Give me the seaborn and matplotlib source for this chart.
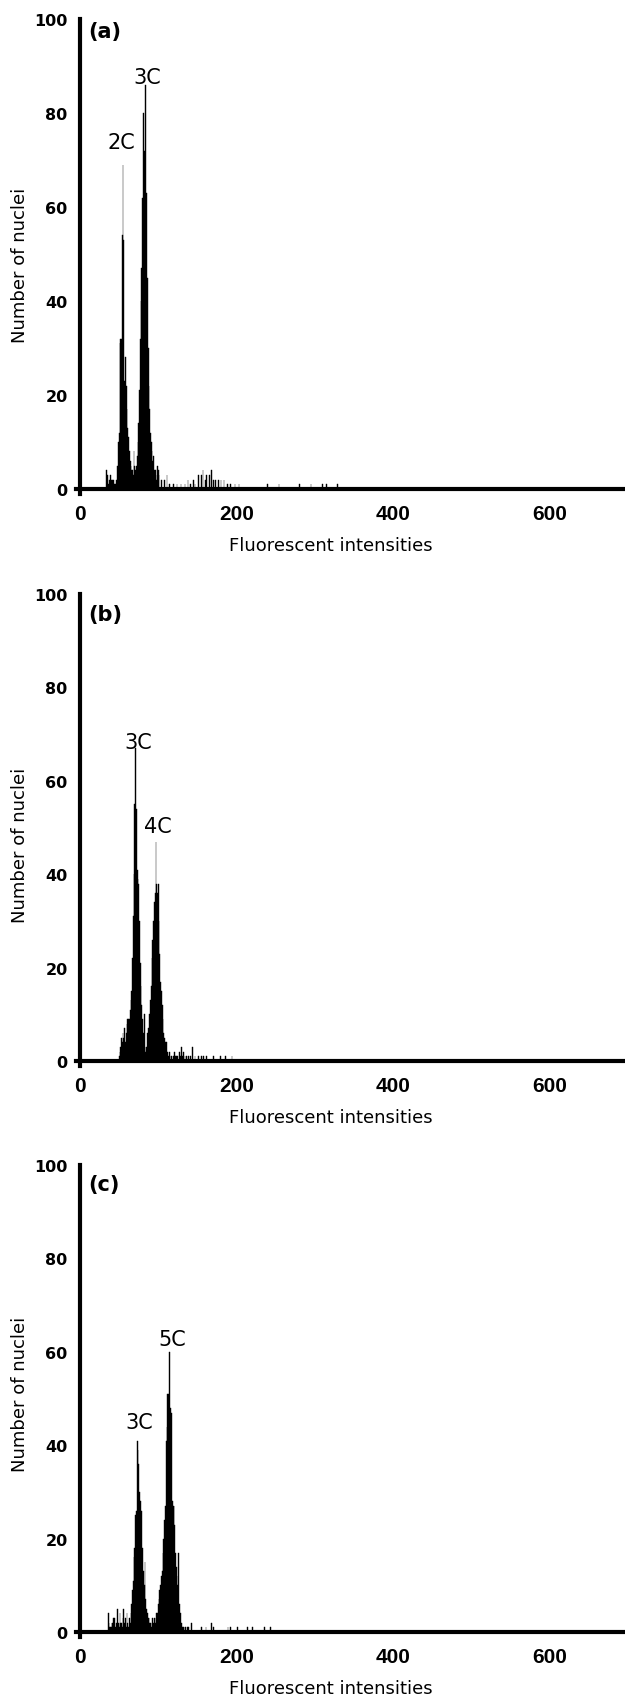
import matplotlib
matplotlib.use("Agg")
import matplotlib.pyplot as plt
import seaborn as sns

# ---- data (intensity bin -> number of nuclei) ----
a_intensity = [34, 35, 36, 37, 38, 39, 40, 41, 42, 43, 44, 45, 46,
               47, 48, 49, 50, 51, 52, 53, 54, 55, 56, 57, 58, 59, 60, 61, 62, 63, 64, 65, 66, 67, 68, 69, 70, 71,
               72, 73, 74, 75, 76, 77, 78, 79, 80, 81, 82, 83, 84, 85, 86, 87, 88, 89, 90, 91, 92, 93, 94, 95,
               96, 97, 98, 99, 100, 101, 104, 108, 111, 114, 119, 124, 129, 134, 138, 141, 145, 147, 151, 155,
               157, 160, 162, 165, 168, 170, 173, 177, 180, 184, 188, 192, 198, 203, 239, 254, 280, 295, 310,
               315, 329]
a_nuclei = [4, 3, 1, 1, 2, 3, 2, 1, 2, 2, 1, 1, 1,
            2, 5, 10, 12, 31, 32, 32, 54, 69, 53, 23, 28, 22, 17, 13, 11, 8, 6, 5, 4, 4, 3, 8, 5, 4,
            5, 7, 10, 14, 21, 32, 40, 47, 62, 80, 72, 71, 86, 63, 45, 30, 22, 17, 12, 10, 8, 6, 7, 4,
            4, 3, 2, 5, 4, 3, 2, 2, 3, 1, 1, 1, 1, 1, 2, 1, 2, 1, 3, 3,
            4, 2, 3, 3, 4, 2, 2, 2, 2, 2, 1, 1, 1, 1, 1, 1, 1, 1, 1,
            1, 1]

b_intensity = [50, 51, 52, 53, 54, 55, 56, 57, 58, 59, 60, 61, 62, 63, 64, 65, 66, 67, 68, 69, 70, 71,
               72, 73, 74, 75, 76, 77, 78, 79, 80, 81, 82, 83, 84, 85, 86, 87, 88, 89, 90, 91, 92, 93, 94,
               95, 96, 97, 98, 99, 100, 101, 102, 103, 104, 105, 106, 107, 108, 109, 110, 111, 112, 113,
               114, 115, 117, 119, 121, 122, 123, 125, 127, 128, 130, 131, 132, 134, 136, 139, 141, 144,
               147, 151, 155, 158, 162, 170, 179, 186, 194]
b_nuclei = [1, 2, 3, 5, 4, 6, 5, 7, 4, 6, 8, 9, 9, 9, 11, 13, 15, 22, 31, 40, 55, 67,
            54, 41, 39, 38, 30, 21, 16, 12, 9, 6, 10, 3, 2, 3, 6, 7, 7, 10, 13, 16, 22, 26, 30,
            34, 36, 47, 38, 36, 38, 30, 23, 17, 15, 12, 9, 6, 5, 4, 4, 2, 2, 1,
            2, 1, 1, 1, 2, 1, 1, 1, 2, 1, 3, 1, 2, 1, 1, 1, 1, 3,
            1, 1, 1, 1, 1, 1, 1, 1, 1]

c_intensity = [36, 37, 38, 39, 40, 41, 42, 43, 44, 45, 46, 47, 48, 49, 50, 51, 52, 53, 54, 55, 56, 57,
               58, 59, 60, 61, 62, 63, 64, 65, 66, 67, 68, 69, 70, 71, 72, 73, 74, 75, 76, 77, 78, 79,
               80, 81, 82, 83, 84, 85, 86, 87, 88, 89, 90, 91, 92, 93, 94, 95, 96, 97, 98, 99, 100,
               101, 102, 103, 104, 105, 106, 107, 108, 109, 110, 111, 112, 113, 114, 115, 116, 117, 118,
               119, 120, 121, 122, 123, 124, 125, 126, 127, 128, 129, 130, 131, 132, 134, 135, 137, 139,
               142, 155, 161, 168, 170, 189, 192, 201, 214, 220, 236, 243]
c_nuclei = [4, 2, 1, 1, 1, 2, 2, 3, 3, 1, 1, 2, 5, 2, 1, 4, 2, 2, 1, 3, 5, 2,
            3, 1, 4, 2, 1, 3, 2, 4, 6, 9, 11, 16, 18, 25, 26, 41, 39, 36, 30, 28, 26, 26,
            18, 13, 10, 15, 7, 5, 4, 3, 3, 2, 2, 1, 2, 3, 2, 3, 2, 3, 4, 4, 6,
            7, 9, 10, 12, 13, 17, 20, 24, 27, 41, 44, 51, 51, 60, 48, 48, 47, 28,
            27, 27, 23, 17, 14, 12, 10, 17, 6, 4, 2, 2, 1, 1, 1, 1, 1, 1,
            2, 1, 1, 2, 1, 1, 1, 1, 1, 1, 1, 1]

panels = ["(a)", "(b)", "(c)"]
peak_text = [["2C", "3C"], ["3C", "4C"], ["3C", "5C"]]
peak_pos = [[(52.5, 73.8), (85.8, 87.7)], [(74, 68.4), (99.4, 50.4)], [(76, 44.9), (117.5, 62.7)]]
y_ticks = [0, 20, 40, 60, 80, 100]
x_ticks = [0, 100, 200, 300, 400, 500, 600]
x_ticklabels = ["0", "", "200", "", "400", "", "600"]

sns.set_style("white")
plt.rcParams["font.family"] = ["DejaVu Sans"]
plt.rcParams["text.color"] = "black"
plt.rcParams["xtick.color"] = "black"
plt.rcParams["ytick.color"] = "black"
plt.rcParams["axes.labelcolor"] = "black"

W, H = 625, 1699
fig = plt.figure(figsize=(W / 100, H / 100), dpi=100)

# pixel layout of each panel: (top of 100, y of 0, px per count)
layout = [(20, 490, 4.70), (595, 1062, 4.67), (1166, 1633, 4.67)]
x_left_px = 80 - 5 * 0.783
ylabel_mid = [265, 845, 1394]

data = [(a_intensity, a_nuclei), (b_intensity, b_nuclei), (c_intensity, c_nuclei)]
label_y = [97.5, 95.7, 96.0]

for i, (xs, ws) in enumerate(data):
    top, zero, ppu = layout[i]
    bottom = zero + ppu
    ax = fig.add_axes([x_left_px / W, 1 - bottom / H, (W - x_left_px) / W, (bottom - top) / H])
    sns.histplot(x=xs, weights=ws, discrete=True, color="black", alpha=1,
                 linewidth=0.3, edgecolor="black", ax=ax)
    ax.set_xlim(-5, 696)
    ax.set_ylim(-1, 100)
    ax.spines["top"].set_visible(False)
    ax.spines["right"].set_visible(False)
    ax.spines["left"].set_position(("data", 0))
    ax.spines["bottom"].set_position(("data", 0))
    for s in ("left", "bottom"):
        ax.spines[s].set_linewidth(3)
        ax.spines[s].set_color("black")
        ax.spines[s].set_zorder(3)
    ax.set_yticks(y_ticks)
    ax.set_yticklabels([str(t) for t in y_ticks], fontsize=11.5, fontweight="bold")
    ax.set_xticks(x_ticks)
    ax.set_xticklabels(x_ticklabels, fontsize=15, fontweight="bold", family="Liberation Sans")
    ax.tick_params(axis="y", length=0, pad=9, labelcolor="black")
    ax.tick_params(axis="x", length=4, width=1, direction="out", pad=7, color="black",
                   labelcolor="black")
    ax.set_xlabel("")
    ax.set_ylabel("")

    ax.text(10, label_y[i], panels[i], fontsize=15, fontweight="bold", ha="left", va="center",
            color="black")
    for txt, (px, py) in zip(peak_text[i], peak_pos[i]):
        ax.text(px, py, txt, fontsize=15, ha="center", va="center", color="black")

    fig.text(20.5 / W, 1 - ylabel_mid[i] / H, "Number of nuclei",
             rotation=90, fontsize=13, ha="center", va="center", color="black")
    fig.text(331 / W, 1 - (zero + 56) / H, "Fluorescent intensities",
             fontsize=13, ha="center", va="center", color="black")

fig.savefig("out.png", dpi=100)
